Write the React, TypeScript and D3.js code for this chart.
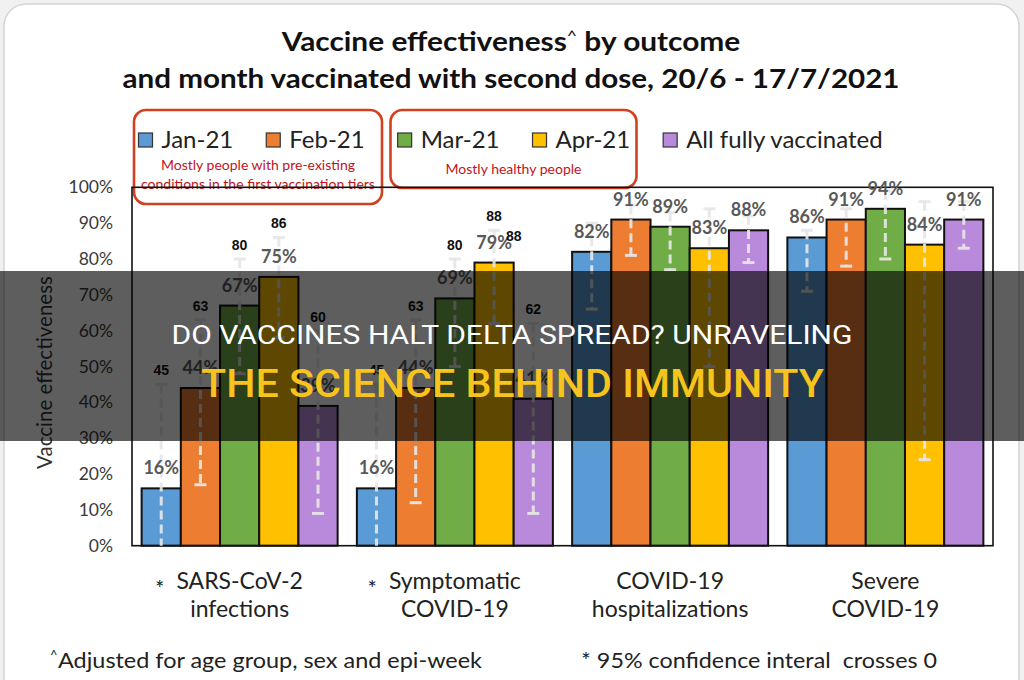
import { useRef, useEffect } from "react";
import * as d3 from "d3";

// Outcomes (x groups), two text lines each
const outcomeKeys = ["infections", "symptomatic", "hospitalizations", "severe"];
const outcomeLines = [
  ["SARS-CoV-2", "infections"],
  ["Symptomatic", "COVID-19"],
  ["COVID-19", "hospitalizations"],
  ["Severe", "COVID-19"],
];
// outcomes whose 95% CI crosses 0 get an asterisk and printed upper bounds
const ciCrossesZero = [true, true, false, false];

const cohorts = ["Jan-21", "Feb-21", "Mar-21", "Apr-21", "All fully vaccinated"];
const cohortColors = ["#5b9bd5", "#ed7d31", "#70ad47", "#ffc000", "#b98adb"];

// vaccine effectiveness (%) per outcome
const veJan = [16, 16, 82, 86];
const veFeb = [44, 44, 91, 91];
const veMar = [67, 69, 89, 94];
const veApr = [75, 79, 83, 84];
const veAll = [39, 41, 88, 91];

// lower 95% CI bound (%)
const lowJan = [-14, -19, 66, 71];
const lowFeb = [17, 12, 81, 78];
const lowMar = [48, 50, 77, 80];
const lowApr = [58, 62, 50, 24];
const lowAll = [9, 9, 79, 83];

// upper 95% CI bound (%)
const highJan = [45, 45, 90, 88];
const highFeb = [63, 63, 95, 94];
const highMar = [80, 80, 93, 99];
const highApr = [86, 88, 94, 96];
const highAll = [60, 62, 92, 96];

const yTicks = [0, 10, 20, 30, 40, 50, 60, 70, 80, 90, 100];

const W = 1024;
const H = 680;
const CAL = "Lato, 'Open Sans', sans-serif";
const ARIAL = "'Liberation Sans', Arial, sans-serif";

// squeeze/stretch a text block horizontally around cx to a target width
function fitWidth(sel: any, cx: number, target: number) {
  const w = (sel.node() as SVGGraphicsElement).getBBox().width;
  if (!w) return;
  const k = target / w;
  sel.attr("transform", `translate(${cx},0) scale(${k},1) translate(${-cx},0)`);
}

export default function App() {
  const svgRef = useRef<SVGSVGElement>(null);

  useEffect(() => {
    if (!svgRef.current) return;
    const svg = d3.select(svgRef.current);
    svg.selectAll("*").remove();

    const ve = [veJan, veFeb, veMar, veApr, veAll];
    const lows = [lowJan, lowFeb, lowMar, lowApr, lowAll];
    const highs = [highJan, highFeb, highMar, highApr, highAll];

    const rows = outcomeKeys.flatMap((o, oi) =>
      cohorts.map((c, ci) => ({
        outcome: o,
        oi,
        cohort: c,
        ci,
        value: ve[ci][oi],
        low: lows[ci][oi],
        high: highs[ci][oi],
      }))
    );

    const plot = { left: 132, right: 993, top: 187.3, bottom: 545.7 };

    const x0 = d3
      .scaleBand<string>()
      .domain(outcomeKeys)
      .range([plot.left, plot.right])
      .paddingInner(0.0894)
      .paddingOuter(0.0447);
    const x1 = d3.scaleBand<string>().domain(cohorts).range([0, x0.bandwidth()]).padding(0);
    const y = d3.scaleLinear().domain([0, 100]).range([plot.bottom, plot.top]);
    const color = d3.scaleOrdinal<string, string>().domain(cohorts).range(cohortColors);
    const cx = (d: any) => (x0(d.outcome) as number) + (x1(d.cohort) as number) + x1.bandwidth() / 2;

    // page + card
    svg.append("rect").attr("width", W).attr("height", H).attr("fill", "#f1f1f1");
    svg
      .append("rect")
      .attr("x", 4)
      .attr("y", 4)
      .attr("width", 1015)
      .attr("height", 720)
      .attr("rx", 22)
      .attr("fill", "#fff")
      .attr("stroke", "#d4d4d4")
      .attr("stroke-width", 1.5);

    // title
    const t1 = svg
      .append("text")
      .attr("x", 511)
      .attr("y", 51)
      .attr("text-anchor", "middle")
      .attr("font-family", CAL)
      .attr("font-weight", 700)
      .attr("font-size", 27)
      .attr("fill", "#111");
    t1.append("tspan").text("Vaccine effectiveness");
    t1.append("tspan").attr("font-size", 16).attr("font-weight", 400).attr("dy", -10).text("^");
    t1.append("tspan").attr("dy", 10).text(" by outcome");
    fitWidth(t1, 511, 460);
    svg
      .append("text")
      .attr("x", 511)
      .attr("y", 88)
      .attr("text-anchor", "middle")
      .attr("font-family", CAL)
      .attr("font-weight", 700)
      .attr("font-size", 27)
      .attr("fill", "#111")
      .attr("textLength", 777)
      .attr("lengthAdjust", "spacingAndGlyphs")
      .text("and month vaccinated with second dose, 20/6 - 17/7/2021");

    // legend, laid out left to right
    const legend = svg.append("g");
    let lx = 138.5;
    cohorts.forEach((c) => {
      legend
        .append("rect")
        .attr("x", lx)
        .attr("y", 133)
        .attr("width", 14)
        .attr("height", 14)
        .attr("fill", color(c))
        .attr("stroke", "#333")
        .attr("stroke-width", 1.2);
      const t = legend
        .append("text")
        .attr("x", lx + 23)
        .attr("y", 148)
        .attr("font-family", CAL)
        .attr("font-size", 24)
        .attr("fill", "#222")
        .text(c);
      const w = (t.node() as SVGTextElement).getComputedTextLength();
      lx += 23 + w + 33;
    });

    // cohort annotation boxes
    const boxes = [
      { x: 134, y: 110, w: 248, h: 94, base: 170, lines: ["Mostly people with pre-existing", "conditions in the first vaccination tiers"] },
      { x: 390.5, y: 110, w: 246, h: 78, base: 174, lines: ["Mostly healthy people"] },
    ];
    boxes.forEach((b) => {
      svg
        .append("rect")
        .attr("x", b.x)
        .attr("y", b.y)
        .attr("width", b.w)
        .attr("height", b.h)
        .attr("rx", 12)
        .attr("fill", "none")
        .attr("stroke", "#d2401f")
        .attr("stroke-width", 2.6);
      b.lines.forEach((l, li) => {
        svg
          .append("text")
          .attr("x", b.x + b.w / 2)
          .attr("y", b.base + li * 18.5)
          .attr("text-anchor", "middle")
          .attr("font-family", CAL)
          .attr("font-size", 14)
          .attr("fill", "#c0141c")
          .text(l);
      });
    });

    // y axis ticks + title
    svg
      .append("g")
      .selectAll("text")
      .data(yTicks)
      .join("text")
      .attr("x", 113)
      .attr("y", (d) => y(d))
      .attr("dy", "0.35em")
      .attr("text-anchor", "end")
      .attr("font-family", CAL)
      .attr("font-size", 17.5)
      .attr("fill", "#3a3a3a")
      .text((d) => `${d}%`);
    svg
      .append("text")
      .attr("transform", `translate(52,${(plot.top + plot.bottom) / 2 + 6}) rotate(-90)`)
      .attr("text-anchor", "middle")
      .attr("font-family", CAL)
      .attr("font-size", 20.5)
      .attr("fill", "#333")
      .text("Vaccine effectiveness");

    // bars
    svg
      .append("g")
      .selectAll("rect")
      .data(rows)
      .join("rect")
      .attr("x", (d) => (x0(d.outcome) as number) + (x1(d.cohort) as number))
      .attr("y", (d) => y(d.value))
      .attr("width", x1.bandwidth())
      .attr("height", (d) => y(0) - y(d.value))
      .attr("fill", (d) => color(d.cohort))
      .attr("stroke", "#111")
      .attr("stroke-width", 2);

    // plot frame
    svg
      .append("rect")
      .attr("x", plot.left)
      .attr("y", plot.top)
      .attr("width", plot.right - plot.left)
      .attr("height", plot.bottom - plot.top)
      .attr("fill", "none")
      .attr("stroke", "#111")
      .attr("stroke-width", 1.6);

    // 95% CI whiskers (dashed)
    const err = svg.append("g").attr("stroke", "#e6e6e6").attr("stroke-opacity", 0.92).attr("stroke-width", 3);
    err
      .selectAll("line.stem")
      .data(rows)
      .join("line")
      .attr("class", "stem")
      .attr("x1", cx)
      .attr("x2", cx)
      .attr("y1", (d) => y(d.high))
      .attr("y2", (d) => y(Math.max(0, d.low)))
      .attr("stroke-dasharray", "9 5");
    err
      .selectAll("line.capHi")
      .data(rows)
      .join("line")
      .attr("class", "capHi")
      .attr("x1", (d) => cx(d) - 6)
      .attr("x2", (d) => cx(d) + 6)
      .attr("y1", (d) => y(d.high))
      .attr("y2", (d) => y(d.high));
    err
      .selectAll("line.capLo")
      .data(rows.filter((d) => d.low >= 0))
      .join("line")
      .attr("class", "capLo")
      .attr("x1", (d) => cx(d) - 6)
      .attr("x2", (d) => cx(d) + 6)
      .attr("y1", (d) => y(d.low))
      .attr("y2", (d) => y(d.low));

    // point estimate labels
    svg
      .append("g")
      .selectAll("text")
      .data(rows)
      .join("text")
      .attr("x", cx)
      .attr("y", (d) => y(d.value) - 14)
      .attr("text-anchor", "middle")
      .attr("font-family", CAL)
      .attr("font-weight", 700)
      .attr("font-size", 18)
      .attr("fill", "#595959")
      .text((d) => `${d.value}%`);

    // printed upper bounds
    const upperRows = rows.filter((d) => ciCrossesZero[d.oi]);
    svg
      .append("g")
      .selectAll("text")
      .data(upperRows)
      .join("text")
      .attr("x", cx)
      .attr("y", (d) => y(d.high) - 9)
      .attr("text-anchor", "middle")
      .attr("font-family", ARIAL)
      .attr("font-weight", 700)
      .attr("font-size", 14)
      .attr("fill", "#111")
      .text((d) => d.high);
    // the Apr-21 symptomatic upper bound is printed a second time beside its bar
    const dup = rows.find((d) => d.oi === 1 && d.ci === 3)!;
    svg
      .append("text")
      .attr("x", cx(dup) + x1.bandwidth() / 2)
      .attr("y", y(dup.high) + 11)
      .attr("text-anchor", "middle")
      .attr("font-family", ARIAL)
      .attr("font-weight", 700)
      .attr("font-size", 14)
      .attr("fill", "#111")
      .text(dup.high);

    // x labels
    outcomeKeys.forEach((o, oi) => {
      const mid = (x0(o) as number) + x0.bandwidth() / 2;
      const l1 = svg
        .append("text")
        .attr("x", mid)
        .attr("y", 589)
        .attr("text-anchor", "middle")
        .attr("font-family", CAL)
        .attr("font-size", 23)
        .attr("fill", "#222")
        .text(outcomeLines[oi][0]);
      svg
        .append("text")
        .attr("x", mid)
        .attr("y", 617)
        .attr("text-anchor", "middle")
        .attr("font-family", CAL)
        .attr("font-size", 23)
        .attr("fill", "#222")
        .text(outcomeLines[oi][1]);
      if (ciCrossesZero[oi]) {
        const w = (l1.node() as SVGTextElement).getComputedTextLength();
        svg
          .append("text")
          .attr("x", mid - w / 2 - 12)
          .attr("y", 596)
          .attr("text-anchor", "end")
          .attr("font-family", CAL)
          .attr("font-size", 22)
          .attr("fill", "#222")
          .text("*");
      }
    });

    // footnotes
    svg
      .append("text")
      .attr("x", 50)
      .attr("y", 660)
      .attr("font-family", CAL)
      .attr("font-size", 13)
      .attr("fill", "#222")
      .text("^");
    svg
      .append("text")
      .attr("x", 58)
      .attr("y", 668)
      .attr("font-family", CAL)
      .attr("font-size", 22)
      .attr("fill", "#222")
      .attr("textLength", 424)
      .attr("lengthAdjust", "spacingAndGlyphs")
      .text("Adjusted for age group, sex and epi-week");
    svg
      .append("text")
      .attr("x", 581)
      .attr("y", 668)
      .attr("font-family", CAL)
      .attr("font-size", 22)
      .attr("fill", "#222")
      .style("white-space", "pre")
      .attr("textLength", 356)
      .attr("lengthAdjust", "spacingAndGlyphs")
      .text("* 95% confidence interal  crosses 0");

    // headline band across the middle
    svg
      .append("rect")
      .attr("x", 0)
      .attr("y", 271)
      .attr("width", W)
      .attr("height", 170)
      .attr("fill", "#000")
      .attr("fill-opacity", 0.63);
    svg
      .append("text")
      .attr("x", 512)
      .attr("y", 343.5)
      .attr("text-anchor", "middle")
      .attr("font-family", "Roboto, " + ARIAL)
      .attr("font-size", 26)
      .attr("fill", "#fff")
      .attr("textLength", 681)
      .attr("lengthAdjust", "spacingAndGlyphs")
      .text("DO VACCINES HALT DELTA SPREAD? UNRAVELING");
    svg
      .append("text")
      .attr("x", 512.5)
      .attr("y", 397)
      .attr("text-anchor", "middle")
      .attr("font-family", "Roboto, " + ARIAL)
      .attr("font-weight", 500)
      .attr("font-size", 38)
      .attr("fill", "#f7c31d")
      .attr("textLength", 623)
      .attr("lengthAdjust", "spacingAndGlyphs")
      .text("THE SCIENCE BEHIND IMMUNITY");
  }, []);

  return (
    <svg
      ref={svgRef}
      width={W}
      height={H}
      style={{ position: "absolute", left: 0, top: 0, display: "block" }}
    />
  );
}
